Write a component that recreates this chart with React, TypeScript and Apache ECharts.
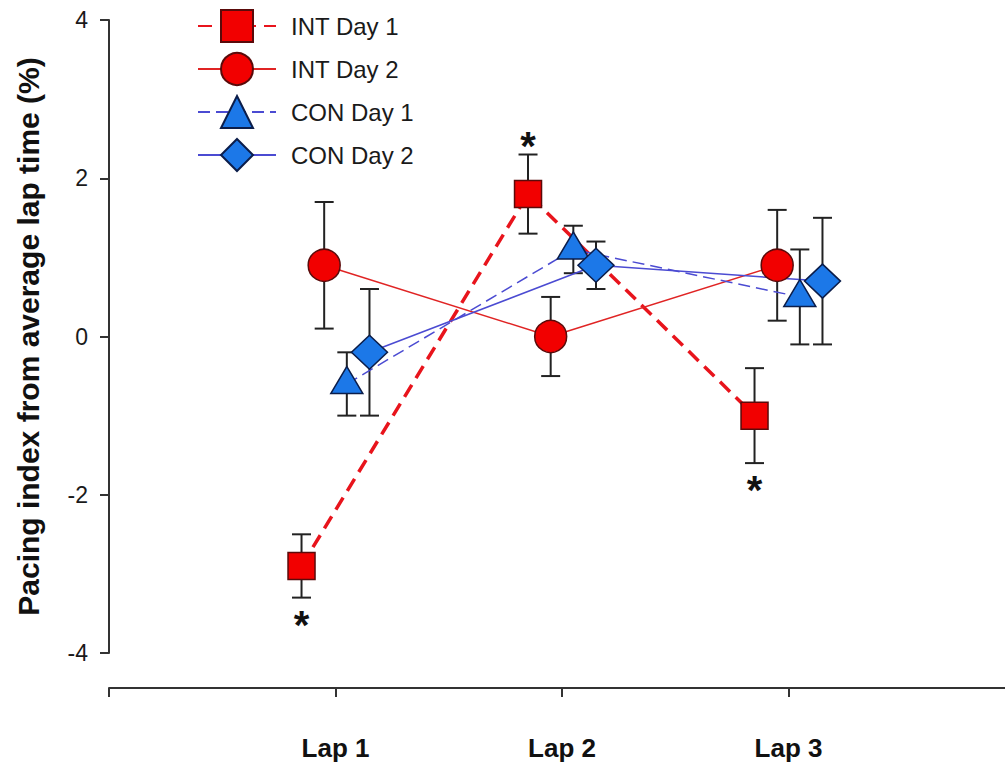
import React, { useEffect, useRef } from "react";
import * as echarts from "echarts";

const laps = [1, 2, 3];
const lapLabels = ["Lap 1", "Lap 2", "Lap 3"];
const seriesNames = ["INT Day 1", "INT Day 2", "CON Day 1", "CON Day 2"];
const lapOffsets = [-0.15, -0.05, 0.05, 0.15];

const intDay1Mean = [-2.9, 1.8, -1.0];
const intDay1Err = [0.4, 0.5, 0.6];
const intDay2Mean = [0.9, 0.0, 0.9];
const intDay2Err = [0.8, 0.5, 0.7];
const conDay1Mean = [-0.6, 1.1, 0.5];
const conDay1Err = [0.4, 0.3, 0.6];
const conDay2Mean = [-0.2, 0.9, 0.7];
const conDay2Err = [0.8, 0.3, 0.8];

const yTicks = [-4, -2, 0, 2, 4];

// significance markers (INT Day 1): -1 = below the error bar, 1 = above
const starSide = [-1, 1, -1];

const FONT = "'Liberation Sans', Arial, sans-serif";

const means = [intDay1Mean, intDay2Mean, conDay1Mean, conDay2Mean];
const errs = [intDay1Err, intDay2Err, conDay1Err, conDay2Err];

const styles = [
  {
    symbol: "rect",
    symbolSize: 27,
    symbolOffset: [0, 0],
    line: { color: "#e8141c", width: 3.5, type: [14, 8] as any },
    fill: "#f20000",
    border: "#5a0a0a",
  },
  {
    symbol: "circle",
    symbolSize: 32,
    symbolOffset: [0, 0],
    line: { color: "#e02424", width: 1.5, type: "solid" as any },
    fill: "#f20000",
    border: "#5a0a0a",
  },
  {
    symbol: "triangle",
    symbolSize: [32, 27],
    symbolOffset: [0, -4],
    line: { color: "#4b4bd2", width: 1.5, type: [12, 6] as any },
    fill: "#1c78e8",
    border: "#0b1d4a",
  },
  {
    symbol: "diamond",
    symbolSize: [36, 34],
    symbolOffset: [0, 0],
    line: { color: "#4b4bd2", width: 1.5, type: "solid" as any },
    fill: "#1c78e8",
    border: "#0b1d4a",
  },
];

export default function App() {
  const ref = useRef<HTMLDivElement>(null);

  useEffect(() => {
    if (!ref.current) return;
    const chart = echarts.init(ref.current, undefined, { renderer: "svg" });

    const lineSeries = seriesNames.map((name, si) => ({
      name,
      type: "line",
      z: 3,
      data: laps.map((l, i) => [l + lapOffsets[si], means[si][i]]),
      symbol: styles[si].symbol,
      symbolSize: styles[si].symbolSize,
      symbolOffset: styles[si].symbolOffset,
      lineStyle: styles[si].line,
      itemStyle: {
        color: styles[si].fill,
        borderColor: styles[si].border,
        borderWidth: 1.5,
      },
      emphasis: { disabled: true },
      clip: false,
    }));

    const errData: number[][] = [];
    seriesNames.forEach((_, si) => {
      laps.forEach((l, i) => {
        errData.push([l + lapOffsets[si], means[si][i], errs[si][i]]);
      });
    });

    const errorSeries = {
      type: "custom",
      z: 1,
      clip: false,
      silent: true,
      encode: { x: 0, y: 1 },
      data: errData,
      renderItem: (params: any, api: any) => {
        const x = api.value(0);
        const y = api.value(1);
        const e = api.value(2);
        const top = api.coord([x, y + e]);
        const bot = api.coord([x, y - e]);
        const hw = 9.5;
        const style = { stroke: "#222", lineWidth: 2 };
        return {
          type: "group",
          children: [
            { type: "line", shape: { x1: top[0], y1: top[1], x2: bot[0], y2: bot[1] }, style },
            { type: "line", shape: { x1: top[0] - hw, y1: top[1], x2: top[0] + hw, y2: top[1] }, style },
            { type: "line", shape: { x1: bot[0] - hw, y1: bot[1], x2: bot[0] + hw, y2: bot[1] }, style },
          ],
        };
      },
    };

    const starSeries = {
      type: "custom",
      z: 4,
      clip: false,
      silent: true,
      encode: { x: 0, y: 1 },
      data: laps.map((l, i) => [l + lapOffsets[0], intDay1Mean[i], intDay1Err[i], starSide[i]]),
      renderItem: (params: any, api: any) => {
        const x = api.value(0);
        const y = api.value(1);
        const e = api.value(2);
        const dir = api.value(3);
        const p = api.coord([x, y + dir * e]);
        const ty = dir < 0 ? p[1] + 27 : p[1] - 9;
        return {
          type: "text",
          x: p[0],
          y: ty,
          style: {
            text: "*",
            fontSize: 40,
            fontWeight: "bold",
            fontFamily: FONT,
            fill: "#111",
            align: "center",
            verticalAlign: "middle",
          },
        };
      },
    };

    chart.setOption({
      animation: false,
      backgroundColor: "#ffffff",
      textStyle: { fontFamily: FONT },
      grid: {
        left: 109,
        top: 20,
        width: 906,
        height: 633,
        containLabel: false,
        outerBoundsMode: "none",
      },
      legend: {
        orient: "vertical",
        left: 192,
        top: 4,
        itemWidth: 78,
        itemHeight: 40,
        itemGap: 9,
        selectedMode: false,
        data: seriesNames,
        textStyle: { fontSize: 24, color: "#1a1a1a", fontFamily: FONT, padding: [0, 0, 0, 10] },
      },
      xAxis: {
        type: "value",
        min: 0,
        max: 4,
        interval: 1,
        offset: 35,
        splitLine: { show: false },
        axisLine: { show: true, onZero: false, lineStyle: { color: "#333", width: 2 } },
        axisTick: { show: true, length: 9, lineStyle: { color: "#333", width: 2 } },
        axisLabel: {
          margin: 47,
          fontSize: 26,
          fontWeight: "bold",
          color: "#111",
          fontFamily: FONT,
          formatter: (v: number) => {
            const idx = laps.indexOf(v);
            return idx >= 0 ? lapLabels[idx] : "";
          },
        },
      },
      yAxis: {
        type: "value",
        min: yTicks[0],
        max: yTicks[yTicks.length - 1],
        interval: 2,
        splitLine: { show: false },
        axisLine: { show: true, onZero: false, lineStyle: { color: "#333", width: 2 } },
        axisTick: { show: true, length: 9, lineStyle: { color: "#333", width: 2 } },
        axisLabel: { margin: 21, fontSize: 23, color: "#1a1a1a", fontFamily: FONT },
        name: "Pacing index from average lap time (%)",
        nameLocation: "middle",
        nameGap: 66,
        nameTextStyle: { fontSize: 30, fontWeight: "bold", color: "#111", fontFamily: FONT },
      },
      series: [errorSeries, ...lineSeries, starSeries],
    });

    return () => chart.dispose();
  }, []);

  return (
    <div
      ref={ref}
      style={{ position: "absolute", left: 0, top: 0, width: 1005, height: 763, background: "#fff" }}
    />
  );
}
